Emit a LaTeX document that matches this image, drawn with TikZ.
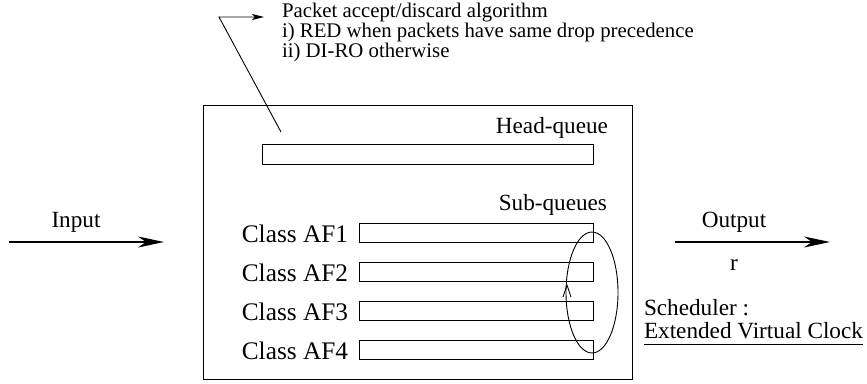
\documentclass[tikz,border=0pt]{standalone}
\usepackage{fontspec}
\setmainfont{Liberation Serif}
\usetikzlibrary{arrows.meta,shapes.geometric}
\begin{document}
\begin{tikzpicture}[x=1pt,y=-1pt,
  lbl/.style={inner sep=0pt, outer sep=0pt},
  txtA/.style={lbl, font=\fontsize{20.8}{24}\selectfont},
  txtB/.style={lbl, font=\fontsize{23.2}{27}\selectfont},
  txtC/.style={lbl, font=\fontsize{25.3}{30}\selectfont},
  box/.style={draw, line width=1pt, rectangle, inner sep=0pt, outer sep=0pt},
  bigarrow/.style={line width=2pt, -{Stealth[length=26pt,width=11pt,inset=8pt]}},
  thin/.style={line width=0.9pt}]
\useasboundingbox (0,0) rectangle (867,383);

% main box and queues
\node[box, minimum width=429pt, minimum height=274pt] (main) at (417.5,242) {};
\node[box, minimum width=331pt, minimum height=20pt] (head) at (427.5,154) {};
\node[box, minimum width=234pt, minimum height=19pt] (q1) at (476,232.5) {};
\node[box, minimum width=234pt, minimum height=19pt] (q2) at (476,271.5) {};
\node[box, minimum width=234pt, minimum height=19pt] (q3) at (476,310.5) {};
\node[box, minimum width=234pt, minimum height=19pt] (q4) at (476,349.5) {};

% labels inside box
\node[txtB, anchor=base east] (headlbl) at (608,133) {Head-queue};
\node[txtB, anchor=base east] (sublbl) at (607,210) {Sub-queues};
\node[txtC, anchor=base east] (c1) at (348,242) {Class AF1};
\node[txtC, anchor=base east] (c2) at (348,281) {Class AF2};
\node[txtC, anchor=base east] (c3) at (348,320) {Class AF3};
\node[txtC, anchor=base east] (c4) at (348,359) {Class AF4};

% scheduler ellipse
\node[draw, thin, ellipse, minimum width=52pt, minimum height=121pt, inner sep=0pt] (sched) at (592,292.5) {};
\coordinate (tipL) at (563,297);
\coordinate (tip) at (567,285);
\coordinate (tipR) at (571,297);
\draw[thin] (tipL) -- (tip) -- (tipR);

% top annotation
\node[txtA, anchor=base west] (t1) at (282,17) {Packet accept/discard algorithm};
\node[txtA, anchor=base west] (t2) at (282,37) {i) RED when packets have same drop precedence};
\node[txtA, anchor=base west] (t3) at (282,57) {ii) DI-RO otherwise};
\coordinate (pA) at (281,132);
\coordinate (pB) at (219,17);
\coordinate (pC) at (264,17);
\draw[thin, -{Stealth[length=12pt,width=6pt,inset=3pt]}] (pA) -- (pB) -- (pC);

% input
\coordinate (inA) at (9,242);
\coordinate (inB) at (164,242);
\draw[bigarrow] (inA) -- (inB);
\node[txtB, anchor=base] (inlbl) at (76,227) {Input};

% output
\coordinate (outA) at (675,242);
\coordinate (outB) at (830,242);
\draw[bigarrow] (outA) -- (outB);
\node[txtB, anchor=base] (outlbl) at (734,227) {Output};
\node[txtB, anchor=base] (rlbl) at (734,270) {r};

% scheduler text
\node[txtB, anchor=base west] (s1) at (644,315) {Scheduler :};
\node[txtB, anchor=base west] (s2) at (644,338) {Extended Virtual Clock};
\draw[thin] ([yshift=-6pt]s2.base west) -- ([yshift=-6pt]s2.base east);
\end{tikzpicture}
\end{document}
